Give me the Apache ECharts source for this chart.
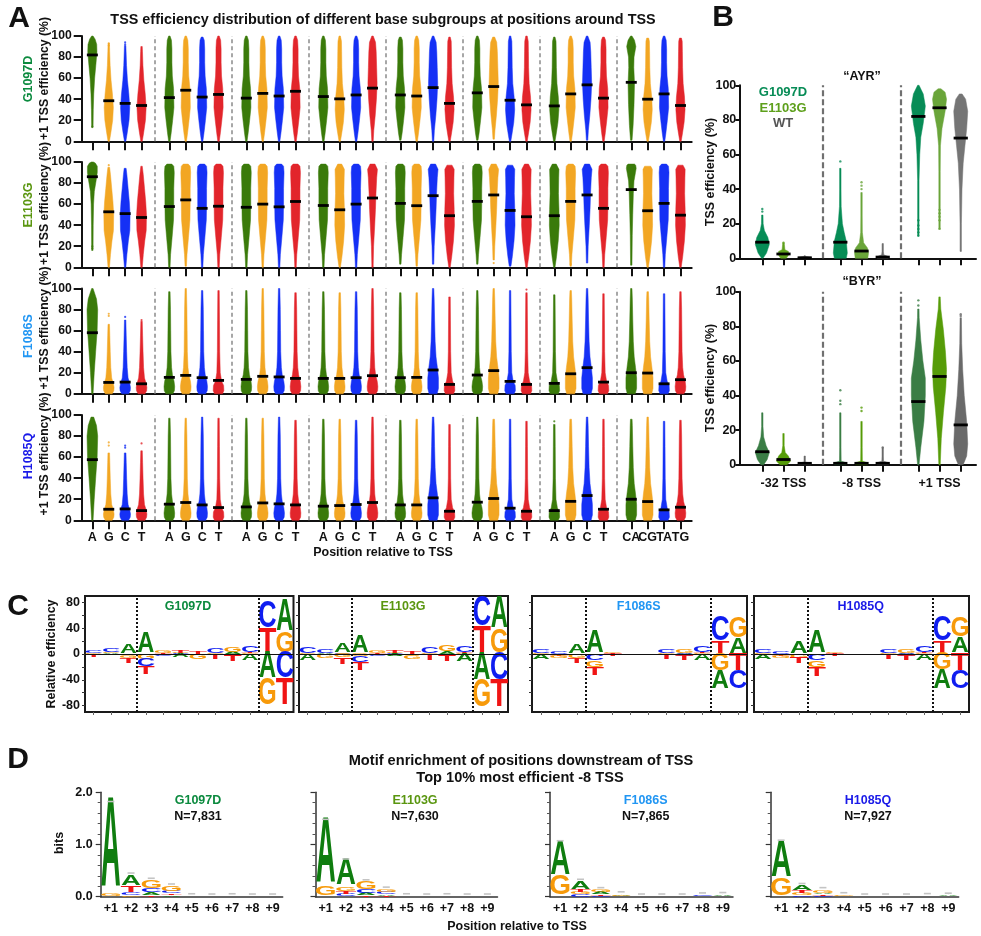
<!DOCTYPE html>
<html><head><meta charset="utf-8">
<style>html,body{margin:0;padding:0;background:#fff}#c{width:981px;height:936px}</style>
<script src="https://cdn.jsdelivr.net/npm/echarts@6/dist/echarts.min.js"></script>
</head><body><div id="c"></div>
<script>
// ---------- DATA ----------
const bases = ['A','G','C','T'];
const groupLabels = [['A','G','C','T'],['A','G','C','T'],['A','G','C','T'],['A','G','C','T'],['A','G','C','T'],['A','G','C','T'],['A','G','C','T'],['CA','CG','TA','TG']];
const mutants = ['G1097D','E1103G','F1086S','H1085Q'];

// Panel A: one line per position group, four violins each (A G C T)
const medianG1097D = [82,38.5,36,34, 41.5,48.5,42,44.5, 41,45.5,43,47.5, 42.5,40.3,44,50.5, 44,43,51,36, 46,52,39,34.6, 33.6,45,53.6,41, 56,40,45,34];
const medianE1103G = [86,52.7,51,47.3, 57.7,64,56,58, 57,60,57.4,62.5, 58.7,54.6,60,65.8, 60.7,58.5,68,49, 62.6,68.7,54,48, 49,62.6,68.7,56, 73.8,53.7,60.7,49.5];
const medianF1086S = [58,10.8,11.1,9.5, 15.6,17.5,15.3,12.7, 13.7,16.6,16,14.6, 14.6,14.6,15.3,17.2, 15.3,15.6,22.6,8.9, 17.8,22,11.8,8.9, 9.9,19,24.8,11.1, 20,19.7,9.5,13.4];
const medianH1085Q = [57.6,10.5,10.8,9.2, 15.3,16.9,14.6,12.1, 12.7,16.5,15.6,14.6, 13.4,14,15,16.9, 14.6,14.6,21.3,8.6, 17.2,20.7,11.5,8.6, 9.2,18,23.5,10.5, 20,17.8,9.9,12.4];

const topG1097D = [100,93,91,90, 100,100,99,100, 100,100,100,100, 100,100,100,100, 99,100,100,99, 100,99,100,100, 99,100,100,99, 100,98,100,98];
const topE1103G = [100,95,94,96, 98,98,98,98, 98,98,98,98, 98,98,98,98, 98,98,98,97, 98,98,97,98, 98,98,98,98, 98,96,98,97];
const topF1086S = [100,66,70,69, 97,100,98,98, 98,100,100,96, 97,96,97,100, 96,96,100,92, 98,100,98,96, 94,98,100,95, 100,97,95,97];
const topH1085Q = [98,64,64,66, 97,97,98,97, 97,97,98,95, 96,96,95,98, 95,96,98,91, 98,96,96,94, 91,96,98,96, 96,98,94,95];

const lowG1097D = [13,0,0,0, 0,0,0,0, 0,0,0,0, 0,0,0,0, 1,0,0,0, 1,2,0,0, 0,0,1,0, 1,0,0,0];
const lowE1103G = [16,0,0,0, 0,1,0,0, 0,0,0,0, 0,0,0,0, 3,1,3,0, 3,7,1,0, 0,1,4,0, 2,0,0,0];
const lowF1086S = [0,0,0,0, 0,0,0,0, 0,0,0,0, 0,0,0,0, 0,0,0,0, 0,0,0,0, 0,0,0,0, 0,0,0,0];
const lowH1085Q = [0,0,0,0, 0,0,0,0, 0,0,0,0, 0,0,0,0, 0,0,0,0, 0,0,0,0, 0,0,0,0, 0,0,0,0];

// outline class of each violin
const classG1097D = 'aTop tri tri tri  s45 s45 s45 s45  s45 s45 s45 s45  s45 s35 s45 s55  s45 s45 s55 s35  s45 s55 s35 s35  s35 s45 s55 s45  bulge s35 s45 s35'.split(/\s+/);
const classE1103G = 'aTop2 tri2 tri2 tri2  c60 c60 c60 c60  c60 c60 c60 c60  c60 c50 c60 c70  c60 c60 c70 c50  c60 c70 c50 c50  c50 c60 c70 c60  bulge2 c50 c60 c50'.split(/\s+/);
const classF1086S = 'u v v v  t t t tn  t t t t  t t t t  t t tb tn  t tb tn tn  tn tb tb tn  tb tb tn t'.split(/\s+/);
const classH1085Q = classF1086S;

// outline classes: [efficiency, relative half width]
const outlineClasses = {
  aTop:[[13,.1],[30,.2],[45,.3],[60,.5],[72,.75],[85,1],[92,.95],[97,.6],[100,.12]],
  tri:[[0,.12],[8,.45],[20,.85],[32,1],[45,.8],[58,.5],[72,.3],[85,.2],[94,.1]],
  s35:[[0,.12],[8,.45],[18,.8],[30,1],[42,.88],[55,.58],[70,.46],[85,.42],[95,.38],[100,.1]],
  s45:[[0,.12],[8,.4],[20,.72],[32,1],[50,.92],[62,.65],[75,.56],[88,.56],[96,.46],[100,.1]],
  s55:[[0,.1],[10,.27],[25,.6],[40,.85],[55,1],[70,.9],[85,.8],[94,.66],[100,.12]],
  bulge:[[0,.15],[15,.4],[35,.6],[55,.7],[70,.55],[80,.6],[90,1],[96,.7],[100,.15]],
  aTop2:[[16,.1],[40,.17],[60,.25],[72,.4],[82,.75],[90,1],[96,1],[99,.6],[100,.2]],
  tri2:[[0,.12],[12,.35],[25,.65],[35,.95],[50,1],[62,.85],[75,.6],[88,.35],[97,.12]],
  bulge2:[[2,.12],[30,.2],[50,.3],[70,.42],[82,.55],[90,.85],[94,1],[97,.9],[99,.4]],
  c50:[[0,.14],[10,.45],[25,.8],[40,1],[55,.95],[70,.85],[85,.9],[93,.95],[98,.4]],
  c60:[[0,.1],[12,.25],[28,.55],[45,.85],[60,.9],[75,.9],[90,1],[96,.9],[99,.3]],
  c70:[[3,.1],[20,.22],[40,.45],[55,.6],[70,.7],[85,.85],[93,1],[99,.4]],
  u:[[0,.1],[20,.35],[40,.62],[60,.9],[80,1],[90,.78],[100,.12]],
  v:[[0,.65],[3,.95],[6,1],[10,.85],[15,.55],[25,.38],[40,.28],[55,.2],[70,.12]],
  t:[[0,.65],[3,.95],[7,1],[12,.88],[18,.58],[25,.42],[40,.3],[60,.26],[80,.22],[100,.12]],
  tn:[[0,.75],[3,1],[8,.95],[12,.58],[20,.32],[40,.22],[70,.18],[95,.14],[100,.1]],
  tb:[[0,.75],[5,1],[15,1],[25,.8],[35,.55],[50,.38],[70,.28],[90,.2],[100,.12]]
};
// stray points: [row, violin index, efficiency]
const outliersA = [[0,1,93],[0,1,91],[0,2,94],[0,2,92],[0,0,14],[1,1,97],[1,0,18],[1,0,20],[1,21,4],[1,25,3],
  [2,1,76],[2,1,74],[2,2,73],[2,3,70],[3,1,74],[3,1,71],[3,2,71],[3,2,69],[3,3,73],[3,24,94],[2,23,99]];

// Panel B
const tssGroups = ['-32 TSS','-8 TSS','+1 TSS'];
const legendB = ['G1097D','E1103G','WT'];
const medianAYR = [9.3,2.5,0.3, 9.3,4.2,0.7, 82,87,69.5];
const medianBYR = [7.5,3,0.8, 0.8,0.8,0.8, 36.5,51,23];
const colorAYR = ['#078c56','#5ea01c','#6e6e6e', '#078c56','#6aa53a','#6e6e6e', '#078c56','#6aa53a','#757575'];
const colorBYR = ['#3a7d45','#569c08','#6a6a6a', '#3a7d45','#569c08','#6a6a6a', '#3a7d45','#569c08','#6a6a6a'];
const outlineAYR = [
 [[0,.1],[3,.6],[8,1],[12,.8],[16,.3],[20,.12],[25,.06]],
 [[0,.4],[2,.75],[4,.7],[5,.2],[9,.05]],
 [[0,.95],[.6,.95],[1,.2],[1.5,.05]],
 [[0,.85],[3,1],[10,.85],[15,.55],[20,.3],[30,.12],[40,.07],[52,.04]],
 [[0,.9],[3,1],[6,.85],[9,.3],[15,.12],[25,.07],[38,.04]],
 [[0,.8],[1,.8],[2,.15],[4,.07],[8.5,.04]],
 [[13,.03],[25,.05],[45,.1],[60,.2],[70,.35],[78,.7],[88,1],[95,.7],[100,.08]],
 [[17,.03],[30,.05],[50,.08],[65,.13],[75,.35],[85,.8],[92,1],[96,.8],[98,.2]],
 [[4,.03],[20,.07],[40,.18],[55,.35],[65,.6],[75,.85],[85,1],[92,.7],[95,.2]]
];
const outlineBYR = [
 [[0,.2],[3,.7],[7,1],[11,.55],[16,.2],[22,.08],[30,.04]],
 [[0,.5],[2,1],[5,.7],[7,.25],[11,.08],[18,.03]],
 [[0,.9],[1,.9],[1.5,.1],[5,.03]],
 [[0,.85],[1.2,.85],[2,.12],[10,.06],[30,.03]],
 [[0,.85],[1.2,.85],[2,.12],[10,.06],[25,.03]],
 [[0,.85],[1.2,.85],[2,.12],[5,.05],[10,.03]],
 [[0,.05],[10,.35],[25,.8],[40,1],[50,1],[60,.65],[72,.35],[85,.12],[90,.05]],
 [[0,.05],[15,.25],[30,.55],[45,.9],[55,1],[65,.85],[78,.55],[90,.18],[97,.03]],
 [[0,.35],[5,.85],[12,1],[25,.85],[40,.5],[55,.28],[70,.14],[85,.05]]
];
const outliersAYR = [[0,28.5],[0,27],[1,9],[3,56],[4,44],[4,42],[4,40],[6,13],[6,15],[6,17],[6,19],[6,22],[7,17],[7,22],[7,24],[7,26],[7,28]];
const outliersBYR = [[3,43],[3,37],[3,35],[4,33],[4,31],[6,92],[6,95],[8,87],[8,86],[5,10]];

// Panel C: signed relative efficiency per position (12 positions)
const effG1097D = {A:[-1,1,15,33,-2,-5,-1,-1,3,-11,-40,48], C:[3,6,-2,-12,-2,1,-1,7,-2,10,40,-40], G:[1,1,-4,-8,3,1,-7,1,8,1,-41,32], T:[-4,-1,-8,-13,1,3,4,-8,-10,1,38,-41]};
const effE1103G = {A:[-10,1,15,26,-2,-3,-1,-1,4,-12,-42,48], C:[9,6,2,-9,-2,1,-1,9,-2,10,46,-42], G:[1,-5,-5,-4,4,1,-6,1,9,1,-43,37], T:[-1,-1,-11,-13,1,3,4,-9,-9,1,40,-43]};
const effF1086S = {A:[-7,-1,15,34,.5,.5,.5,-1,1,-11,-28,24], C:[6,4,-1,-10,.5,.5,.5,6,-3,10,38,-28], G:[1,-3,-5,-11,1,.5,.5,1,6,1,-27,32], T:[-1,-2,-8,-13,-3,.5,.5,-7,-7,1,18,-27]};
const effH1085Q = {A:[-7,-1,18,34,.5,.5,.5,-1,1,-10,-30,25], C:[6,4,-1,-10,.5,.5,.5,6,-3,10,38,-28], G:[1,-3,-5,-11,1,.5,.5,1,6,1,-26,30], T:[-1,-2,-9,-14,-3,.5,.5,-7,-7,1,18,-27]};

// Panel D: bits per position (+1..+9)
const bitsG1097D = {A:[1.73,.2,.05,.03,.004,.002,.004,.002,.002], C:[.006,.06,.08,.05,.003,.002,.003,.002,.002], G:[.04,.02,.15,.09,.003,.002,.003,.002,.002], T:[.004,.13,.03,.03,.003,.002,.003,.002,.002]};
const bitsE1103G = {A:[1.26,.49,.05,.03,.004,.002,.004,.002,.002], C:[.005,.05,.07,.04,.003,.002,.003,.002,.002], G:[.17,.08,.14,.06,.003,.002,.003,.002,.002], T:[.004,.06,.02,.01,.003,.002,.003,.002,.002]};
const bitsF1086S = {A:[.65,.16,.04,.01,.002,.002,.002,.008,.025], C:[.005,.04,.02,.006,.002,.002,.002,.01,.003], G:[.37,.04,.05,.03,.002,.002,.002,.008,.005], T:[.004,.05,.02,.004,.002,.002,.002,.003,.003]};
const bitsH1085Q = {A:[.70,.09,.03,.006,.002,.002,.002,.006,.015], C:[.005,.03,.02,.004,.002,.002,.002,.004,.003], G:[.33,.04,.06,.02,.002,.002,.002,.004,.004], T:[.004,.05,.02,.003,.002,.002,.002,.002,.002]};
const nMotif = ['N=7,831','N=7,630','N=7,865','N=7,927'];

// ---------- COLOURS / STYLE ----------
const baseColor = {A:'#3a7a0a',G:'#f2a623',C:'#1530f5',T:'#e2252b'};
const logoColor = {A:'#0f7d0f',G:'#f79a0a',C:'#0f1df0',T:'#f01414'};
const mutantColor = {G1097D:'#0b8a3e',E1103G:'#5a9610',F1086S:'#2196f3',H1085Q:'#1a1ae8',WT:'#555555'};
const FF = '"Liberation Sans", Arial, sans-serif';
const k = '#111';

// ---------- HELPERS ----------
function widthAt(profile, v){
  if (v <= profile[0][0]) return profile[0][1];
  for (let i = 1; i < profile.length; i++){
    if (v <= profile[i][0]){
      const a = profile[i-1], b = profile[i];
      return a[1] + (b[1]-a[1])*(v-a[0])/(b[0]-a[0]);
    }
  }
  return profile[profile.length-1][1];
}
function violinItem(maxHalf, barHalf, lookup){
  return function(params, api){
    const x = api.value(0), med = api.value(1), lo = api.value(2), hi = api.value(3), idx = api.value(4);
    const entry = lookup(params.dataIndex, idx);
    const prof = entry.profile;
    const levels = [lo];
    prof.forEach(p => { if (p[0] > lo && p[0] < hi) levels.push(p[0]); });
    levels.push(hi);
    const unit = api.size([1,0])[0];
    const left = [], right = [];
    levels.forEach(v => {
      const c = api.coord([x, v]);
      const h = Math.max(0.7, widthAt(prof, v)*maxHalf*unit);
      left.push([c[0]-h, c[1]]); right.unshift([c[0]+h, c[1]]);
    });
    const m = api.coord([x, med]);
    return {type:'group', children:[
      {type:'polygon', shape:{points:left.concat(right)}, style:{fill:entry.color, stroke:entry.color, lineWidth:.5}},
      {type:'rect', shape:{x:m[0]-barHalf*unit, y:m[1]-1.4, width:2*barHalf*unit, height:2.8}, style:{fill:'#000'}}
    ]};
  };
}
function logoItem(params, api){
  const x = api.value(0), y0 = api.value(1), y1 = api.value(2), li = api.value(3);
  const unit = api.size([1,0])[0];
  const a = api.coord([x, y0]), b = api.coord([x, y1]);
  const h = Math.abs(a[1]-b[1]);
  if (li === 4) return {type:'rect', shape:{x:a[0]-3.5, y:b[1]-1.5, width:7, height:1.6}, style:{fill:'#c4c4c4'}};
  const L = ['A','C','G','T'][li];
  const ink = {A:72,C:67,G:71,T:58}[L];
  const sy = h/71;
  return {type:'text', x:a[0], y:(a[1]+b[1])/2 + 1.3*sy, scaleX:unit*0.98/ink, scaleY:sy, silent:true,
    style:{text:L, font:'bold 100px '+FF, fill:logoColor[L], align:'center', verticalAlign:'middle', textAlign:'center', textVerticalAlign:'middle'}};
}
function logoData(set, n, sep, cap){
  const out = [];
  for (let i = 0; i < n; i++){
    const cells = [0,1,2,3].map(j => ({j, v:set['ACGT'[j]][i]}));
    let up = 0, down = 0;
    cells.slice().sort((p,q)=>Math.abs(p.v)-Math.abs(q.v)).forEach(c => {
      if (c.v >= 0){ out.push([i+1, up, up+c.v, c.j]); up += c.v; }
      else { out.push([i+1, down, down+c.v, c.j]); down += c.v; }
    });
    if (cap && up > .004) out.push([i+1, up+.03, up+.03, 4]);
  }
  return out;
}

// ---------- LAYOUT ----------
const grids = [], xAxes = [], yAxes = [], series = [], gfx = [];
const txt = (text, x, y, o={}) => gfx.push({type:'text', x, y, rotation:o.rot||0, silent:true, z:10,
  style:{text, font:(o.w||'bold')+' '+(o.s||12)+'px '+FF, fill:o.c||k, align:o.a||'center', verticalAlign:'middle', textAlign:o.a||'center', textVerticalAlign:'middle'}});
const R90 = Math.PI/2;
function addGrid(g, x, y){
  const i = grids.length; grids.push(g); xAxes.push(Object.assign({gridIndex:i}, x)); yAxes.push(Object.assign({gridIndex:i}, y)); return i;
}

// Panel A
const groupStep = 4.695;
const violinX = []; const violinLabel = {};
groupLabels.forEach((labs,g)=>labs.forEach((l,c)=>{ const v=+(g*groupStep+c).toFixed(3); violinX.push(v); violinLabel[v]=l; }));
const sepX = [0,1,2,3,4,5,6].map(g=>3.82+g*groupStep);
const rowsA = [
  {top:36, half:.28, med:medianG1097D, hi:topG1097D, lo:lowG1097D, cls:classG1097D},
  {top:162, half:.3, med:medianE1103G, hi:topE1103G, lo:lowE1103G, cls:classE1103G},
  {top:288.5, half:.325, med:medianF1086S, hi:topF1086S, lo:lowF1086S, cls:classF1086S},
  {top:415, half:.325, med:medianH1085Q, hi:topH1085Q, lo:lowH1085Q, cls:classH1085Q}
];
rowsA.forEach((r,ri)=>{
  const last = ri===3;
  const gi = addGrid({left:81.7, top:r.top, width:610, height:105.3},
   {type:'value', min:-0.65, max:36.55, splitLine:{show:false},
    axisLine:{onZero:false, lineStyle:{color:k,width:2}},
    axisTick:{customValues:violinX, length:9, lineStyle:{color:k,width:2}},
    axisLabel: last ? {customValues:violinX, formatter:v=>violinLabel[+(+v).toFixed(3)]||'', fontWeight:'bold', fontSize:12.5, color:k, margin:11, fontFamily:FF, hideOverlap:false, showMinLabel:true, showMaxLabel:true} : {show:false}},
   {type:'value', min:0, max:100, interval:20, splitLine:{show:false},
    axisLine:{show:true, onZero:false, lineStyle:{color:k,width:2}},
    axisTick:{show:true, length:8, lineStyle:{color:k,width:2}},
    axisLabel:{fontWeight:'bold', fontSize:12.2, color:k, margin:10, fontFamily:FF}});
  series.push({type:'custom', xAxisIndex:gi, yAxisIndex:gi, clip:false, silent:true,
    renderItem:violinItem(r.half,.335,(i)=>({profile:outlineClasses[r.cls[i]], color:baseColor[bases[i%4]]})),
    encode:{x:0,y:1},
    data:violinX.map((x,i)=>[x,r.med[i],r.lo[i],r.hi[i],i]),
    markLine:{silent:true,symbol:'none',label:{show:false},animation:false,
      lineStyle:{color:'#8a8a8a',type:[4,3],width:1.5},data:sepX.map(v=>({xAxis:v}))}});
  series.push({type:'scatter', xAxisIndex:gi, yAxisIndex:gi, symbolSize:2.2, silent:true, clip:false,
    data:outliersA.filter(o=>o[0]===ri).map(o=>({value:[violinX[o[1]],o[2]],itemStyle:{color:baseColor[bases[o[1]%4]]}}))});
});
txt('TSS efficiency distribution of different base subgroups at positions around TSS', 383, 20, {s:14.4});
txt('Position relative to TSS', 383, 553, {s:12.5});
[78.5,203.5,328,454].forEach(y=>txt('+1 TSS efficiency (%)',45,y,{rot:R90,s:12.2}));
[79,205,336,456].forEach((y,i)=>txt(mutants[i],29,y,{rot:R90,s:12.5,c:mutantColor[mutants[i]]}));
txt('A',19,19,{s:30}); txt('B',723,18,{s:30}); txt('C',18,607,{s:30}); txt('D',18,760,{s:30});

// Panel B
const bX = [0,1,2,3.68,4.68,5.68,7.36,8.36,9.36];
const bGroupCentre = [1,4.68,8.36];
const bHalf = .33;
[{top:85.3, med:medianAYR, col:colorAYR, prof:outlineAYR, out:outliersAYR, labels:false},
 {top:291.7, med:medianBYR, col:colorBYR, prof:outlineBYR, out:outliersBYR, labels:true}].forEach(p=>{
  const gi = addGrid({left:739.3, top:p.top, width:236.7, height:173},
   {type:'value', min:-1.085, max:10.08, splitLine:{show:false},
    axisLine:{onZero:false,lineStyle:{color:k,width:2}},
    axisTick:{customValues:bX,length:7,lineStyle:{color:k,width:2}},
    axisLabel:p.labels?{customValues:bGroupCentre,formatter:v=>tssGroups[bGroupCentre.indexOf(+v)]||'',fontWeight:'bold',fontSize:12.5,color:k,margin:12,fontFamily:FF,showMinLabel:true,showMaxLabel:true}:{show:false}},
   {type:'value', min:0, max:100, interval:20, splitLine:{show:false},
    axisLine:{show:true,onZero:false,lineStyle:{color:k,width:2}},
    axisTick:{show:true,length:4,lineStyle:{color:k,width:2}},
    axisLabel:{fontWeight:'bold',fontSize:12.5,color:k,margin:3,fontFamily:FF}});
  series.push({type:'custom',xAxisIndex:gi,yAxisIndex:gi,clip:false,silent:true,encode:{x:0,y:1},
    renderItem:violinItem(bHalf,.335,(i)=>({profile:p.prof[i],color:p.col[i]})),
    data:bX.map((x,i)=>[x,p.med[i],p.prof[i][0][0],p.prof[i][p.prof[i].length-1][0],i]),
    markLine:{silent:true,symbol:'none',label:{show:false},animation:false,
      lineStyle:{color:'#707070',type:[6,3],width:2.2},data:[2.85,6.51].map(v=>({xAxis:v}))}});
  series.push({type:'scatter',xAxisIndex:gi,yAxisIndex:gi,symbolSize:2.4,silent:true,clip:false,
    data:p.out.map(o=>({value:[bX[o[0]],o[1]],itemStyle:{color:p.col[o[0]]}}))});
});
txt('\u201CAYR\u201D',862,77,{s:12.5}); txt('\u201CBYR\u201D',862,282,{s:12.5});
txt('TSS efficiency (%)',711,172,{rot:R90,s:12.5}); txt('TSS efficiency (%)',711,378,{rot:R90,s:12.5});
legendB.forEach((l,i)=>txt(l,783,[92,108,123][i],{s:13,c:['#078c56','#5ea01c','#555'][i]}));

// Panel C
const cPanels = [[85,208.5,effG1097D],[299,209,effE1103G],[532,215,effF1086S],[754,215,effH1085Q]];
const cTicks = [-80,-60,-40,-20,0,20,40,60,80];
const cPos = [1,2,3,4,5,6,7,8,9,10,11,12];
cPanels.forEach((p,i)=>{
  const gi = addGrid({left:p[0], top:596, width:p[1], height:116, show:true, borderColor:'#1a1a1a', borderWidth:2, backgroundColor:'#fff'},
   {type:'value', min:.5, max:12.5, splitLine:{show:false}, axisLine:{show:false,onZero:false},
    axisTick:{customValues:cPos,length:3,lineStyle:{color:'#666',width:1}}, axisLabel:{show:false}},
   {type:'value', min:-90, max:90, splitLine:{show:false}, axisLine:{show:false,onZero:false},
    axisTick:{show:true,customValues:cTicks,length:3,lineStyle:{color:'#333',width:1}},
    axisLabel:i===0?{customValues:[-80,-40,0,40,80],fontWeight:'bold',fontSize:12.5,color:k,margin:5,fontFamily:FF,showMinLabel:true,showMaxLabel:true}:{show:false}});
  series.push({type:'custom',xAxisIndex:gi,yAxisIndex:gi,clip:false,silent:true,encode:{x:0,y:[1,2]},
    renderItem:logoItem,data:logoData(p[2],12),
    markLine:{silent:true,symbol:'none',label:{show:false},animation:false,z:9,
      data:[{yAxis:0,lineStyle:{color:'#111',width:1,type:'solid'}},
            {xAxis:3.5,lineStyle:{color:'#111',width:2,type:[2,2]}},
            {xAxis:10.5,lineStyle:{color:'#111',width:2,type:[2,2]}}]}});
  txt(mutants[i], [188,403,638.7,860.7][i], 607, {s:12.5,c:mutantColor[mutants[i]]});
});
txt('Relative efficiency',52,654,{rot:R90,s:12.5});

// Panel D
const dPanels = [[100.7,182,bitsG1097D],[315.5,182,bitsE1103G],[550,183,bitsF1086S],[770.7,188,bitsH1085Q]];
const dPos = [1,2,3,4,5,6,7,8,9];
dPanels.forEach((p,i)=>{
  const gi = addGrid({left:p[0], top:792.3, width:p[1], height:104.4},
   {type:'value', min:.5, max:9.5, splitLine:{show:false},
    axisLine:{onZero:false,lineStyle:{color:'#333',width:1.5}}, axisTick:{show:false},
    axisLabel:{customValues:dPos,formatter:v=>'+'+v,fontWeight:'bold',fontSize:12.5,color:k,margin:5,fontFamily:FF}},
   {type:'value', min:0, max:2, interval:1, splitLine:{show:false},
    axisLine:{show:true,onZero:false,lineStyle:{color:'#333',width:1.5}},
    axisTick:{show:true,length:5,lineStyle:{color:'#333',width:1.2}},
    minorTick:{show:true,splitNumber:5,length:3,lineStyle:{color:'#555',width:1}},
    axisLabel:i===0?{formatter:v=>(+v).toFixed(1),fontWeight:'bold',fontSize:12.5,color:k,margin:8,fontFamily:FF}:{show:false}});
  series.push({type:'custom',xAxisIndex:gi,yAxisIndex:gi,clip:false,silent:true,encode:{x:0,y:[1,2]},
    renderItem:logoItem,data:logoData(p[2],9,0,true)});
  const cx=[198,415,645.7,868][i];
  txt(mutants[i],cx,801,{s:12.5,c:mutantColor[mutants[i]]});
  txt(nMotif[i],cx,817,{s:12.5});
});
txt('bits',60,843,{rot:R90,s:12.5});
txt('Motif enrichment of positions downstream of TSS',521,761,{s:14.6});
txt('Top 10% most efficient -8 TSS',520,778,{s:14.6});
txt('Position relative to TSS',517,927,{s:12.5});

const chart = echarts.init(document.getElementById('c'),null,{renderer:'canvas',width:981,height:936});
chart.setOption({animation:false,backgroundColor:'#fff',textStyle:{fontFamily:FF},
  grid:grids,xAxis:xAxes,yAxis:yAxes,series,graphic:{elements:gfx}});
</script></body></html>
